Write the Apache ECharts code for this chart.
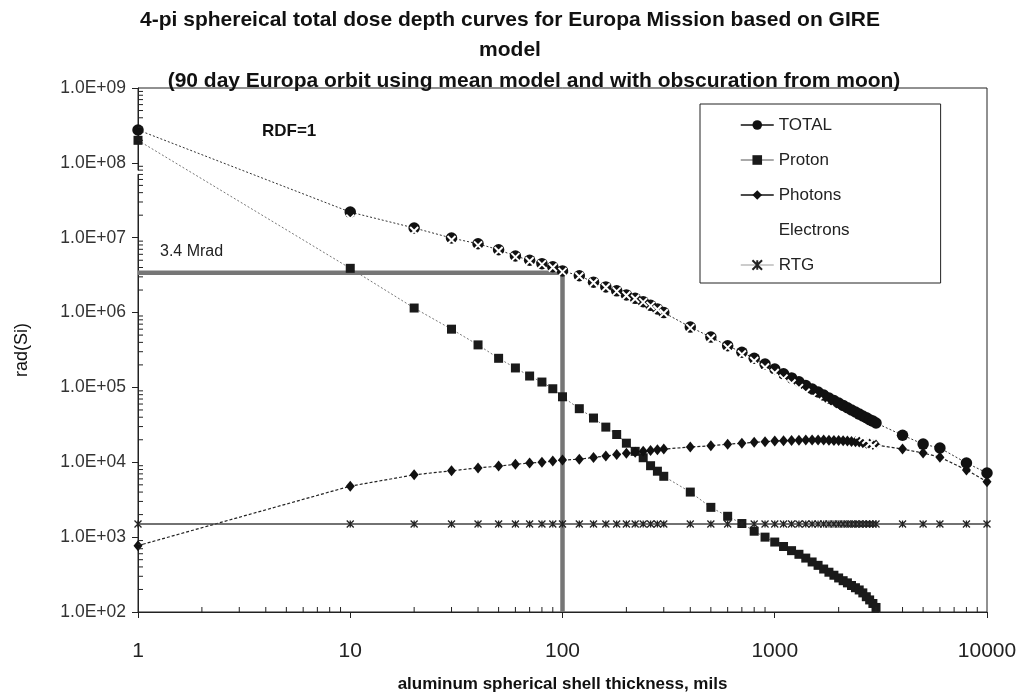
<!DOCTYPE html>
<html>
<head>
<meta charset="utf-8">
<script src="https://cdn.jsdelivr.net/npm/echarts@6/dist/echarts.min.js"></script>
<style>
html,body{margin:0;padding:0;background:#fff;}
#chart{width:1018px;height:694px;}
</style>
</head>
<body>
<div id="chart"></div>
<script>
// Thickness (mils)
var thickness = [1,10,20,30,40,50,60,70,80,90,100,
  120,140,160,180,200,220,240,260,280,300,
  400,500,600,700,800,900,1000,1100,1200,1300,1400,1500,1600,1700,1800,1900,2000,
  2100,2200,2300,2400,2500,2600,2700,2800,2900,3000,
  4000,5000,6000,8000,10000];

var totalDose = [2.75e8,2.2e7,1.35e7,9.9e6,8.3e6,6.9e6,5.7e6,5.0e6,4.5e6,4.1e6,3.6e6,
  3.1e6,2.55e6,2.2e6,1.95e6,1.72e6,1.55e6,1.4e6,1.25e6,1.12e6,1.0e6,
  6.4e5,4.7e5,3.6e5,2.95e5,2.45e5,2.05e5,1.76e5,1.52e5,1.34e5,1.19e5,1.06e5,9.5e4,8.7e4,7.9e4,7.2e4,6.7e4,6.2e4,
  5.75e4,5.35e4,5.0e4,4.7e4,4.4e4,4.15e4,3.95e4,3.7e4,3.55e4,3.35e4,
  2.3e4,1.75e4,1.55e4,9.8e3,7.2e3];

var protonDose = [2.0e8,3.9e6,1.15e6,6.0e5,3.7e5,2.45e5,1.82e5,1.42e5,1.18e5,9.6e4,7.5e4,
  5.2e4,3.9e4,2.95e4,2.35e4,1.8e4,1.4e4,1.15e4,9.0e3,7.6e3,6.5e3,
  4.0e3,2.5e3,1.9e3,1.52e3,1.2e3,1.0e3,860,750,660,590,525,466,420,375,340,310,285,
  262,245,226,211,197,180,160,145,130,115,
  35,null,null,null,null];

var photonDose = [770,4.8e3,6.8e3,7.7e3,8.4e3,8.9e3,9.4e3,9.8e3,1.0e4,1.04e4,1.07e4,
  1.1e4,1.16e4,1.21e4,1.27e4,1.32e4,1.36e4,1.4e4,1.44e4,1.47e4,1.5e4,
  1.6e4,1.66e4,1.74e4,1.8e4,1.85e4,1.88e4,1.92e4,1.94e4,1.96e4,1.97e4,1.98e4,1.98e4,1.98e4,1.98e4,1.97e4,1.96e4,1.95e4,
  1.94e4,1.92e4,1.9e4,1.88e4,1.86e4,1.83e4,1.8e4,1.76e4,1.73e4,1.7e4,
  1.5e4,1.33e4,1.17e4,7.9e3,5.5e3];

var electronDose = [7.5e7,1.8e7,1.23e7,9.3e6,7.9e6,6.65e6,5.5e6,4.85e6,4.4e6,4.0e6,3.5e6,
  3.04e6,2.5e6,2.16e6,1.92e6,1.69e6,1.53e6,1.38e6,1.23e6,1.1e6,9.8e5,
  6.2e5,4.5e5,3.4e5,2.75e5,2.25e5,1.85e5,1.56e5,1.31e5,1.13e5,9.8e4,8.5e4,7.3e4,6.5e4,5.7e4,5.1e4,4.6e4,4.1e4,
  3.65e4,3.3e4,2.95e4,2.65e4,2.35e4,2.15e4,2.0e4,1.8e4,1.65e4,1.5e4,
  null,null,null,null,null];

var rtgDose = [1500,1500,1500,1500,1500,1500,1500,1500,1500,1500,1500,
  1500,1500,1500,1500,1500,1500,1500,1500,1500,1500,
  1500,1500,1500,1500,1500,1500,1500,1500,1500,1500,1500,1500,1500,1500,1500,1500,1500,
  1500,1500,1500,1500,1500,1500,1500,1500,1500,1500,
  1500,1500,1500,1500,1500];

// 3.4 Mrad reference lines
var mradX = [1, 100, 100];
var mradY = [3.4e6, 3.4e6, 100];

// minor tick values
var xMinorTicks = [2,3,4,5,6,7,8,9,20,30,40,50,60,70,80,90,200,300,400,500,600,700,800,900,2000,3000,4000,5000,6000,7000,8000,9000];
var yMinorTicks = [];
[2,3,4,5,6,7,8].forEach(function(e){ [2,3,4,5,6,7,8,9].forEach(function(m){ yMinorTicks.push(m*Math.pow(10,e)); }); });

function pairs(arr){ return thickness.map(function(x,i){ return [x, arr[i]]; }); }

var FONT = '"Liberation Sans", Arial, sans-serif';
var starPath = 'path://M0,0L10,10M10,0L0,10M5,0L5,10';
var xPath = 'path://M0,0L10,10M10,0L0,10';

var tickData = xMinorTicks.map(function(v){ return [v, 100, 0]; })
  .concat(yMinorTicks.map(function(v){ return [1, v, 1]; }));

var chart = echarts.init(document.getElementById('chart'), null, {renderer:'canvas'});
chart.setOption({
  backgroundColor: '#fff',
  animation: false,
  title: [
    {
      text: '4-pi sphereical total dose depth curves for Europa Mission based on GIRE\nmodel',
      left: 510, top: 5, textAlign: 'center', padding: 0,
      textStyle: {fontFamily: FONT, fontSize: 21, fontWeight: 'bold', color: '#111', lineHeight: 30}
    },
    {
      text: '(90 day Europa orbit using mean model and with obscuration from moon)',
      left: 534, top: 66, textAlign: 'center', padding: 0,
      textStyle: {fontFamily: FONT, fontSize: 21, fontWeight: 'bold', color: '#111', lineHeight: 30}
    }
  ],
  grid: {left: 138, right: 31, top: 88, bottom: 82, show: true, borderColor: '#222', borderWidth: 1,
    containLabel: false, outerBoundsMode: 'none'},
  legend: {
    orient: 'vertical', left: 700, top: 104,
    data: [
      {name: 'TOTAL', lineStyle: {type: 'solid', color: '#111', width: 1.5}},
      {name: 'Proton', lineStyle: {type: 'solid', color: '#555', width: 1}},
      {name: 'Photons', lineStyle: {type: 'solid', color: '#111', width: 1.5}},
      {name: 'Electrons'},
      {name: 'RTG', lineStyle: {type: 'solid', color: '#999', width: 1}}
    ],
    itemWidth: 33, itemHeight: 12, itemGap: 15,
    padding: [11, 91, 8, 40],
    borderColor: '#222', borderWidth: 1, backgroundColor: '#fff',
    textStyle: {fontFamily: FONT, fontSize: 17, color: '#222', lineHeight: 20}
  },
  xAxis: {
    type: 'log', logBase: 10, min: 1, max: 10000, interval: 1,
    name: 'aluminum spherical shell thickness, mils', nameLocation: 'middle', nameGap: 64,
    nameTextStyle: {fontFamily: FONT, fontSize: 17, fontWeight: 'bold', color: '#111'},
    axisLine: {lineStyle: {color: '#222', width: 1}},
    axisTick: {show: true, length: 6, lineStyle: {color: '#222'}},
    axisLabel: {fontFamily: FONT, fontSize: 21, color: '#222', margin: 29,
      formatter: function(v){ return String(Math.round(v)); }},
    splitLine: {show: false}
  },
  yAxis: {
    type: 'log', logBase: 10, min: 100, max: 1e9, interval: 1,
    name: 'rad(Si)', nameLocation: 'middle', nameGap: 107, nameRotate: 90,
    nameTextStyle: {fontFamily: FONT, fontSize: 18, color: '#111'},
    axisLine: {lineStyle: {color: '#222', width: 1}},
    axisTick: {show: true, length: 6, lineStyle: {color: '#222'}},
    axisLabel: {fontFamily: FONT, fontSize: 17.5, color: '#333', margin: 12,
      formatter: function(v){ var e = Math.round(Math.log10(v)); return '1.0E+' + (e < 10 ? '0' : '') + e; }},
    splitLine: {show: false}
  },
  graphic: [
    {type: 'text', left: 262, top: 123, style: {text: 'RDF=1', font: 'bold 17px ' + FONT, fill: '#111'}},
    {type: 'text', left: 160, top: 244, style: {text: '3.4 Mrad', font: '16px ' + FONT, fill: '#222'}}
  ],
  series: [
    {
      name: 'mrad', type: 'line', data: mradX.map(function(x,i){ return [x, mradY[i]]; }),
      showSymbol: false, symbol: 'none', silent: true,
      lineStyle: {color: '#767676', width: 4.5}, z: 1
    },
    {
      name: 'ticks', type: 'custom', data: tickData, silent: true, clip: false, z: 5,
      renderItem: function(params, api){
        var p = api.coord([api.value(0), api.value(1)]);
        if (api.value(2) === 0) {
          return {type: 'line', shape: {x1: p[0], y1: p[1], x2: p[0], y2: p[1] - 5}, style: {stroke: '#222', lineWidth: 1}};
        }
        return {type: 'line', shape: {x1: p[0], y1: p[1], x2: p[0] + 5, y2: p[1]}, style: {stroke: '#222', lineWidth: 1}};
      }
    },
    {
      name: 'TOTAL', type: 'line', data: pairs(totalDose),
      symbol: 'circle', symbolSize: 11.5,
      itemStyle: {color: '#111'},
      lineStyle: {color: '#333', width: 1, type: [2, 2]}, z: 3
    },
    {
      name: 'Proton', type: 'line', data: pairs(protonDose),
      symbol: 'rect', symbolSize: 9,
      itemStyle: {color: '#1a1a1a'},
      lineStyle: {color: '#777', width: 1, type: [2, 2]}, z: 3
    },
    {
      name: 'Photons', type: 'line', data: pairs(photonDose),
      symbol: 'diamond', symbolSize: [9, 11],
      itemStyle: {color: '#111'},
      lineStyle: {color: '#222', width: 1.2, type: [3, 2]}, z: 3
    },
    {
      name: 'Electrons', type: 'line', data: pairs(electronDose),
      symbol: xPath, symbolSize: 8,
      itemStyle: {color: 'rgba(0,0,0,0)', borderColor: '#fff', borderWidth: 2},
      lineStyle: {color: '#fff', width: 0, opacity: 0}, z: 3
    },
    {
      name: 'RTG', type: 'line', data: pairs(rtgDose),
      symbol: starPath, symbolSize: 7,
      itemStyle: {color: 'rgba(0,0,0,0)', borderColor: '#222', borderWidth: 1.3},
      lineStyle: {color: '#444', width: 1.5}, z: 3
    }
  ]
});
</script>
</body>
</html>
